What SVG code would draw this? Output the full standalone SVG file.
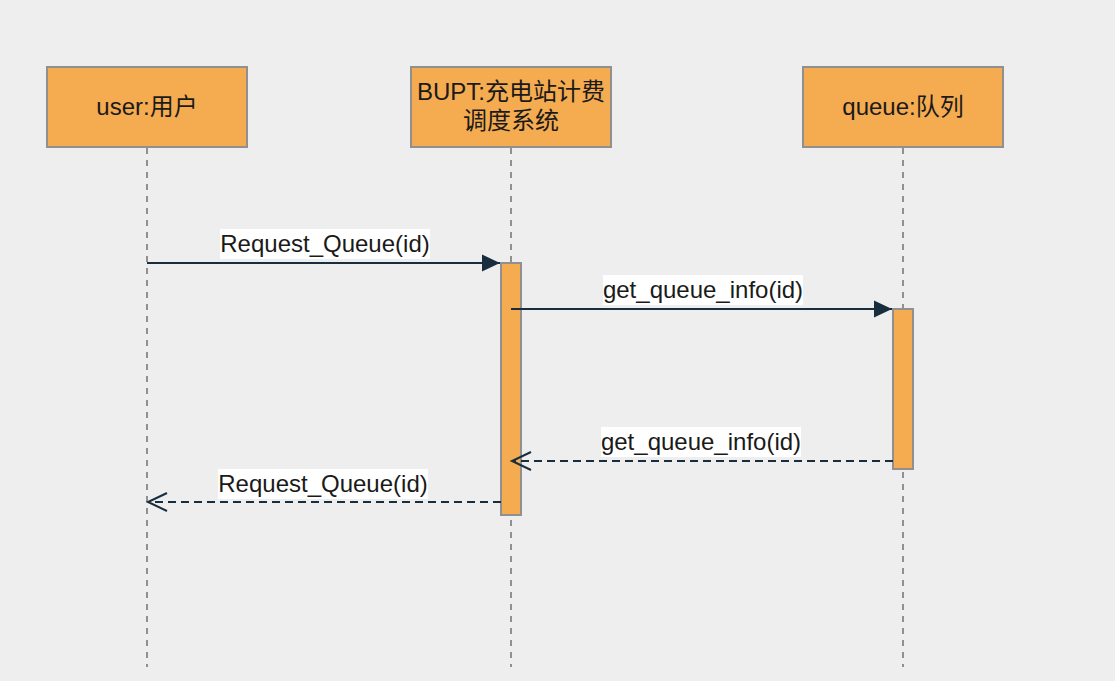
<svg xmlns="http://www.w3.org/2000/svg" width="1115" height="681" viewBox="0 0 1115 681">
<defs>
<style>
.box{fill:#F5AB50;stroke:#909090;stroke-width:2}
.life{stroke:#909090;stroke-width:2;stroke-dasharray:6 6;fill:none}
.t{font-family:"Liberation Sans","Noto Sans CJK SC",sans-serif;font-size:24px;fill:#1a1a1a;text-anchor:middle}
.msg{stroke:#182E3E;stroke-width:2;fill:none}
.ret{stroke:#182E3E;stroke-width:2;fill:none;stroke-dasharray:8 5}
.lbg{fill:#ffffff}
</style>
<marker id="fill" viewBox="0 0 20 20" refX="19" refY="10" markerWidth="20" markerHeight="20" markerUnits="userSpaceOnUse" orient="auto">
<path d="M1,1.5 L19,10 L1,18.5 Z" fill="#182E3E"/>
</marker>
<marker id="open" viewBox="0 0 24 24" refX="21" refY="12" markerWidth="24" markerHeight="24" markerUnits="userSpaceOnUse" orient="auto">
<path d="M2,3 L21,12 L2,21" fill="none" stroke="#182E3E" stroke-width="2"/>
</marker>
</defs>
<rect width="1115" height="681" fill="#eeeeee"/>
<g id="lifelines">
<line class="life" x1="147" y1="148" x2="147" y2="667"/>
<line class="life" x1="511" y1="148" x2="511" y2="667"/>
<line class="life" x1="903" y1="148" x2="903" y2="667"/>
</g>
<g id="user">
<rect class="box" x="47" y="67" width="200" height="80"/>
<text class="t" x="147" y="115">user:用户</text>
</g>
<g id="bupt">
<rect class="box" x="411" y="67" width="200" height="80"/>
<text class="t" x="511" y="100">BUPT:充电站计费</text>
<text class="t" x="511" y="129">调度系统</text>
</g>
<g id="queue">
<rect class="box" x="803" y="67" width="200" height="80"/>
<text class="t" x="903" y="115">queue:队列</text>
</g>
<g id="act-bupt">
<rect class="box" x="501" y="263" width="20" height="252"/>
</g>
<g id="act-queue">
<rect class="box" x="893" y="309" width="20" height="160"/>
</g>
<g id="connectors">
<line class="msg" x1="147" y1="263" x2="500" y2="263" marker-end="url(#fill)"/>
<rect class="lbg" x="220" y="229" width="210" height="30"/>
<text class="t" x="325" y="252">Request_Queue(id)</text>
<line class="msg" x1="511" y1="309" x2="892" y2="309" marker-end="url(#fill)"/>
<rect class="lbg" x="603" y="275" width="200" height="30"/>
<text class="t" x="703" y="298">get_queue_info(id)</text>
<line class="ret" x1="893" y1="461" x2="512" y2="461" marker-end="url(#open)"/>
<rect class="lbg" x="601" y="427" width="200" height="30"/>
<text class="t" x="701" y="450">get_queue_info(id)</text>
<line class="ret" x1="501" y1="502" x2="148" y2="502" marker-end="url(#open)"/>
<rect class="lbg" x="218" y="469" width="210" height="30"/>
<text class="t" x="323" y="492">Request_Queue(id)</text>
</g>
</svg>
